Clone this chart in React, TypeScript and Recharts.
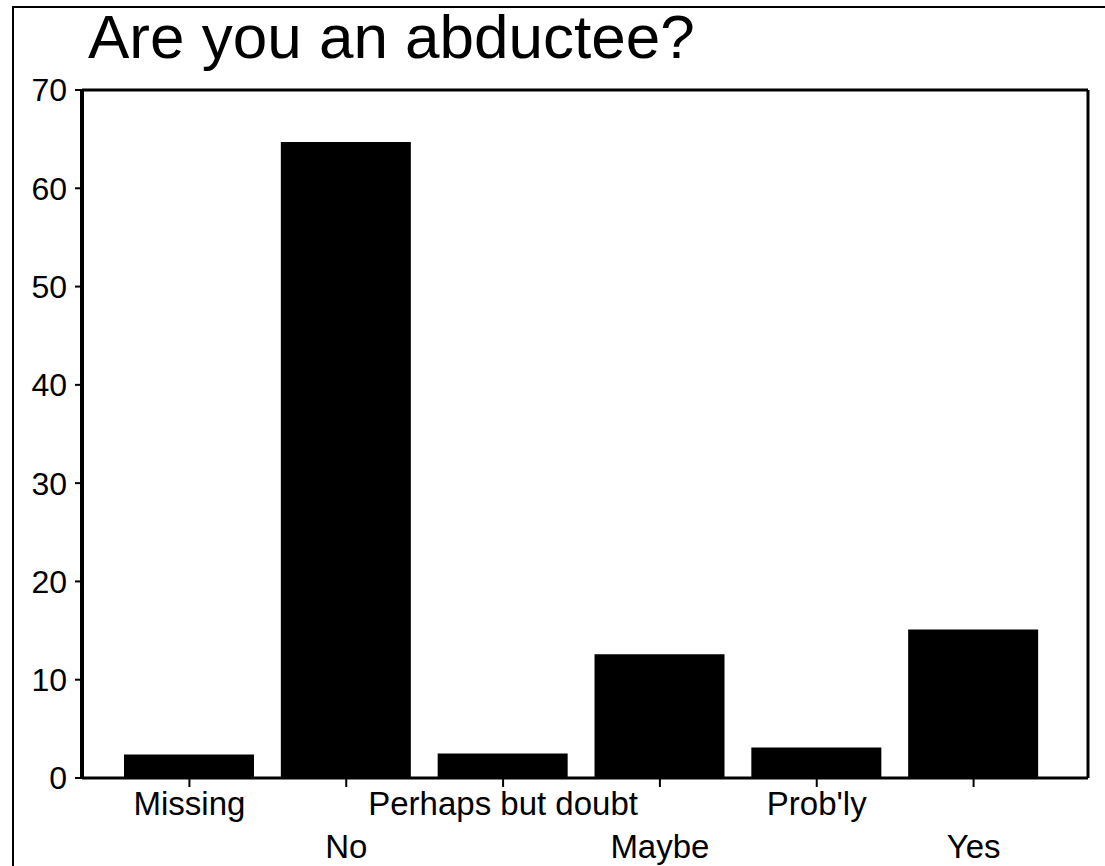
import React from 'react';
import { BarChart, Bar, XAxis, YAxis, CartesianGrid } from 'recharts';

const categories = ['Missing', 'No', 'Perhaps but doubt', 'Maybe', "Prob'ly", 'Yes'];
const percents = [2.4, 64.7, 2.5, 12.6, 3.1, 15.1];
const yTicks = [0, 10, 20, 30, 40, 50, 60, 70];

const data = categories.map((name, i) => ({ name, value: percents[i] }));

const FONT = '"Liberation Sans", Arial, Helvetica, sans-serif';

const StaggeredTick = (props: any) => {
    const { x, y, payload, index } = props;
    return (
        <text
            x={x}
            y={y + (index % 2 === 1 ? 71 : 28)}
            textAnchor="middle"
            fontSize={33}
            fontFamily={FONT}
            fill="#000"
        >
            {payload.value}
        </text>
    );
};

// frame lines on the top and right edges of the plot area
const topEdge = ({ offset }: any) => [offset.top];
const rightEdge = ({ offset }: any) => [offset.left + offset.width];

export default function App() {
    return (
        <div style={{ position: 'absolute', left: 0, top: 0, width: 1105, height: 866, background: '#fff', fontFamily: FONT }}>
            <div
                style={{
                    position: 'absolute',
                    left: 12,
                    top: 6,
                    width: 1093,
                    height: 860,
                    borderLeft: '2px solid #000',
                    borderTop: '2px solid #000',
                    boxSizing: 'border-box',
                }}
            />
            <div
                style={{
                    position: 'absolute',
                    left: 88,
                    top: 6,
                    fontSize: 62,
                    lineHeight: '62px',
                    color: '#000',
                    whiteSpace: 'nowrap',
                }}
            >
                Are you an abductee?
            </div>
            <div style={{ position: 'absolute', left: 0, top: 0 }}>
                <BarChart
                    width={1105}
                    height={866}
                    data={data}
                    margin={{ top: 90, right: 17, bottom: 8, left: 0 }}
                    barSize={130}
                >
                    <CartesianGrid
                        stroke="#000"
                        strokeWidth={3}
                        horizontalCoordinatesGenerator={topEdge}
                        verticalCoordinatesGenerator={rightEdge}
                    />
                    <XAxis
                        dataKey="name"
                        height={80}
                        interval={0}
                        padding={{ left: 29, right: 36 }}
                        axisLine={{ stroke: '#000', strokeWidth: 3 }}
                        tickLine={{ stroke: '#000', strokeWidth: 2 }}
                        tickSize={9}
                        tickMargin={0}
                        tick={<StaggeredTick />}
                    />
                    <YAxis
                        width={82}
                        domain={[0, 70]}
                        ticks={yTicks}
                        interval={0}
                        axisLine={{ stroke: '#000', strokeWidth: 4 }}
                        tickLine={{ stroke: '#000', strokeWidth: 2 }}
                        tickSize={7}
                        tickMargin={8}
                        tick={{ fill: '#000', fontSize: 32, fontFamily: FONT }}
                    />
                    <Bar dataKey="value" fill="#000" isAnimationActive={false} />
                </BarChart>
            </div>
        </div>
    );
}
